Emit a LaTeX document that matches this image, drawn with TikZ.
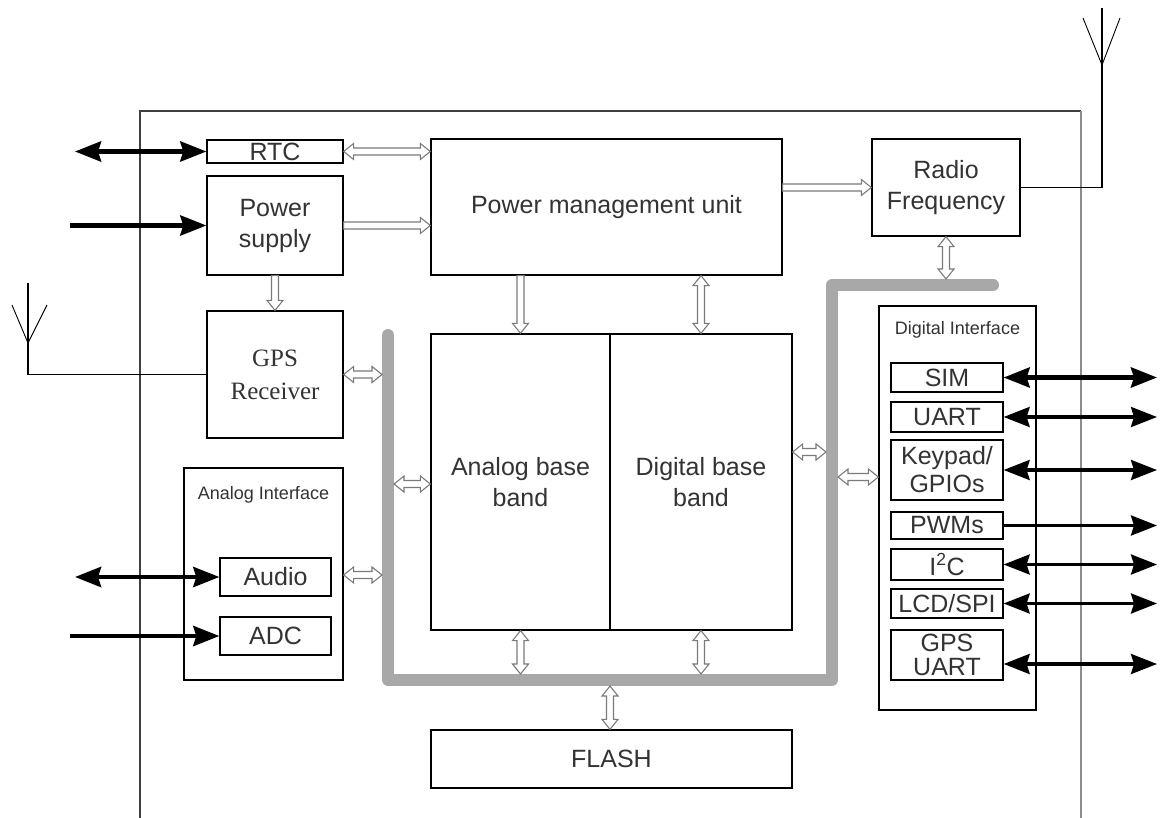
\documentclass[tikz,border=0pt]{standalone}
\usepackage{fontspec}
\setmainfont{Liberation Sans}
\newfontfamily\gpsserif{Liberation Serif}
\usetikzlibrary{arrows.meta,calc}
\definecolor{txt}{HTML}{333333}
\definecolor{busgray}{HTML}{A8A8A8}
\definecolor{hollowgray}{HTML}{7A7A7A}
\newcommand\hah{10pt}
\newcommand\haw{8pt}
\newcommand\hsw{3.5pt}
% hollow double-headed horizontal arrow
\newcommand\hbi[2]{\draw[hollow] let \p1=#1, \p2=#2 in
  (\x1,\y1) -- (\x1+\hah,\y1+\haw) -- (\x1+\hah,\y1+\hsw) -- (\x2-\hah,\y1+\hsw) -- (\x2-\hah,\y1+\haw) -- (\x2,\y1)
  -- (\x2-\hah,\y1-\haw) -- (\x2-\hah,\y1-\hsw) -- (\x1+\hah,\y1-\hsw) -- (\x1+\hah,\y1-\haw) -- cycle;}
% hollow single horizontal arrow, pointing right
\newcommand\hri[2]{\draw[hollow] let \p1=#1, \p2=#2 in
  (\x1,\y1+\hsw) -- (\x2-\hah,\y1+\hsw) -- (\x2-\hah,\y1+\haw) -- (\x2,\y1) -- (\x2-\hah,\y1-\haw) -- (\x2-\hah,\y1-\hsw) -- (\x1,\y1-\hsw) -- cycle;}
% hollow double-headed vertical arrow (first point on top)
\newcommand\vbi[2]{\draw[hollow] let \p1=#1, \p2=#2 in
  (\x1,\y1) -- (\x1+\haw,\y1-\hah) -- (\x1+\hsw,\y1-\hah) -- (\x1+\hsw,\y2+\hah) -- (\x1+\haw,\y2+\hah) -- (\x1,\y2)
  -- (\x1-\haw,\y2+\hah) -- (\x1-\hsw,\y2+\hah) -- (\x1-\hsw,\y1-\hah) -- (\x1-\haw,\y1-\hah) -- cycle;}
% hollow single vertical arrow, pointing down
\newcommand\vdo[2]{\draw[hollow] let \p1=#1, \p2=#2 in
  (\x1-\hsw,\y1) -- (\x1+\hsw,\y1) -- (\x1+\hsw,\y2+\hah) -- (\x1+\haw,\y2+\hah) -- (\x1,\y2) -- (\x1-\haw,\y2+\hah) -- (\x1-\hsw,\y2+\hah) -- cycle;}
\tikzset{
  blk/.style={draw=black, line width=1.3pt, fill=white, inner sep=0pt, align=center, text=txt,
    font=\fontsize{25}{31}\selectfont},
  small/.style={inner sep=0pt, text=txt, font=\fontsize{18}{21}\selectfont},
  hollow/.style={draw=hollowgray, line width=1.1pt, fill=white, line join=miter},
  wire/.style={draw=black, line width=1.2pt},
  bus/.style={draw=busgray, line width=12pt, line join=round, line cap=round},
  bigbi/.style={line width=4.5pt, {Stealth[length=26pt,width=20pt,inset=3pt]}-{Stealth[length=26pt,width=20pt,inset=3pt]}},
  bigr/.style={line width=4.5pt, -{Stealth[length=26pt,width=20pt,inset=3pt]}},
  medbi/.style={line width=3.2pt, {Stealth[length=26pt,width=20pt,inset=3pt]}-{Stealth[length=26pt,width=20pt,inset=3pt]}},
  medr/.style={line width=3.2pt, -{Stealth[length=26pt,width=20pt,inset=3pt]}},
}
\begin{document}
\begin{tikzpicture}[x=1pt,y=-1pt]
\useasboundingbox (0,0) rectangle (1161,818);
% outer frame
\draw[line width=1.4pt, draw=black!75] (140,818) -- (140,111) -- (1081,111);
\draw[line width=1.4pt, draw=black!45] (1081,111) -- (1081,818);

% bus
\coordinate (b1) at (388,335);
\coordinate (b2) at (388,680);
\coordinate (b3) at (832,680);
\coordinate (b4) at (832,285);
\coordinate (b5) at (993,285);
\draw[bus] (b1) -- (b2) -- (b3) -- (b4) -- (b5);

% blocks
\node[blk, minimum width=136pt, minimum height=23pt] (rtc) at (275,151.5) {RTC};
\node[blk, minimum width=136pt, minimum height=99pt] (ps) at (275,225.5) {Power\\supply};
\node[blk, minimum width=351pt, minimum height=136pt] (pmu) at (606.5,207) {Power management unit};
\node[blk, minimum width=148pt, minimum height=97pt] (rf) at (946,187.5) {Radio\\Frequency};
\node[blk, minimum width=136pt, minimum height=127pt, font=\gpsserif\fontsize{25}{33}\selectfont] (gps) at (275,374.5) {GPS\\Receiver};
\node[blk, minimum width=159pt, minimum height=212pt] (ai) at (263.5,574) {};
\node[small] (ail) at (263.5,495) {Analog Interface};
\node[blk, minimum width=111pt, minimum height=38pt] (audio) at (275.5,577) {Audio};
\node[blk, minimum width=111pt, minimum height=38pt] (adc) at (275.5,636) {ADC};
\node[blk, minimum width=179pt, minimum height=296pt] (abb) at (520.5,482) {Analog base\\band};
\node[blk, minimum width=182pt, minimum height=296pt] (dbb) at (701,482) {Digital base\\band};
\node[blk, minimum width=361pt, minimum height=58pt] (flash) at (611.5,759) {FLASH};
\node[blk, minimum width=157pt, minimum height=404pt] (di) at (957.5,508) {};
\node[small] (dil) at (957.5,330) {Digital Interface};
\node[blk, minimum width=112pt, minimum height=29pt] (sim) at (947,377.5) {SIM};
\node[blk, minimum width=112pt, minimum height=30pt] (uart) at (947,417) {UART};
\node[blk, minimum width=112pt, minimum height=60pt, font=\fontsize{25}{28}\selectfont] (key) at (947,470) {Keypad/\\GPIOs};
\node[blk, minimum width=112pt, minimum height=27pt] (pwm) at (947,525.5) {PWMs};
\node[blk, minimum width=112pt, minimum height=31pt] (i2c) at (947,564.5) {I\textsuperscript{2}C};
\node[blk, minimum width=112pt, minimum height=29pt] (lcd) at (947,603.5) {LCD/SPI};
\node[blk, minimum width=112pt, minimum height=50pt, font=\fontsize{25}{24}\selectfont] (gpsu) at (947,655) {GPS\\UART};

% antennas
\coordinate (ga) at (28,283);
\draw[wire] (gps.west) -| (ga);
\draw[wire, line width=0.9pt] (12,305) -- (28,343) -- (47,305);
\coordinate (ra) at (1102,8);
\draw[wire] (rf.east) -| (ra);
\draw[wire, line width=0.9pt] (1083,18) -- (1102,65) -- (1120,18);

% hollow arrows
\hbi{(rtc.east)}{(rtc.east -| pmu.west)}
\hri{(ps.east)}{(ps.east -| pmu.west)}
\hri{(pmu.east |- rf.west)}{(rf.west)}
\vdo{(ps.south)}{(gps.north)}
\vdo{(pmu.south -| abb)}{(abb.north)}
\vbi{(pmu.south -| dbb)}{(dbb.north)}
\hbi{(gps.east)}{($(gps.east -| b1)+(-6,0)$)}
\coordinate (ab1) at ([yshift=-2pt]abb.west);
\hbi{($(ab1 -| b1)+(6,0)$)}{(ab1)}
\coordinate (au1) at ([yshift=2pt]ai.east |- audio);
\hbi{(au1)}{($(au1 -| b1)+(-6,0)$)}
\vbi{(abb.south)}{($(abb.south |- b2)+(0,-6)$)}
\vbi{(dbb.south)}{($(dbb.south |- b2)+(0,-6)$)}
\coordinate (fl1) at ([xshift=-1.5pt]flash.north);
\vbi{($(fl1 |- b2)+(0,6)$)}{(fl1)}
\coordinate (d1) at ([yshift=30pt]dbb.east);
\hbi{(d1)}{($(d1 -| b3)+(-6,0)$)}
\coordinate (d2) at ([yshift=31pt]di.west);
\hbi{($(d2 -| b3)+(6,0)$)}{(d2)}
\vbi{(rf.south)}{($(rf.south |- b4)+(0,-6)$)}

% external black arrows, left
\coordinate (lrtc) at (75,151.5);
\coordinate (lps) at (70,225.5);
\coordinate (laud) at (75,577);
\coordinate (ladc) at (70,636);
\draw[bigbi] (lrtc) -- (rtc.west);
\draw[bigr] (lps) -- (ps.west);
\draw[bigbi] (laud) -- (audio.west);
\draw[bigr] (ladc) -- (adc.west);

% external black arrows, right
\coordinate (rsim) at (1157,377.5);
\coordinate (ruart) at (1157,417);
\coordinate (rkey) at (1157,470);
\coordinate (rpwm) at (1157,525.5);
\coordinate (ri2c) at (1157,564.5);
\coordinate (rlcd) at (1157,603.5);
\coordinate (rgps) at (1157,664);
\draw[bigbi] (sim.east) -- (rsim);
\draw[medbi] (uart.east) -- (ruart);
\draw[medbi] (key.east) -- (rkey);
\draw[medr] (pwm.east) -- (rpwm);
\draw[medbi] (i2c.east) -- (ri2c);
\draw[medbi] (lcd.east) -- (rlcd);
\draw[medbi] ([yshift=-9pt]gpsu.east) -- (rgps);
\end{tikzpicture}
\end{document}
